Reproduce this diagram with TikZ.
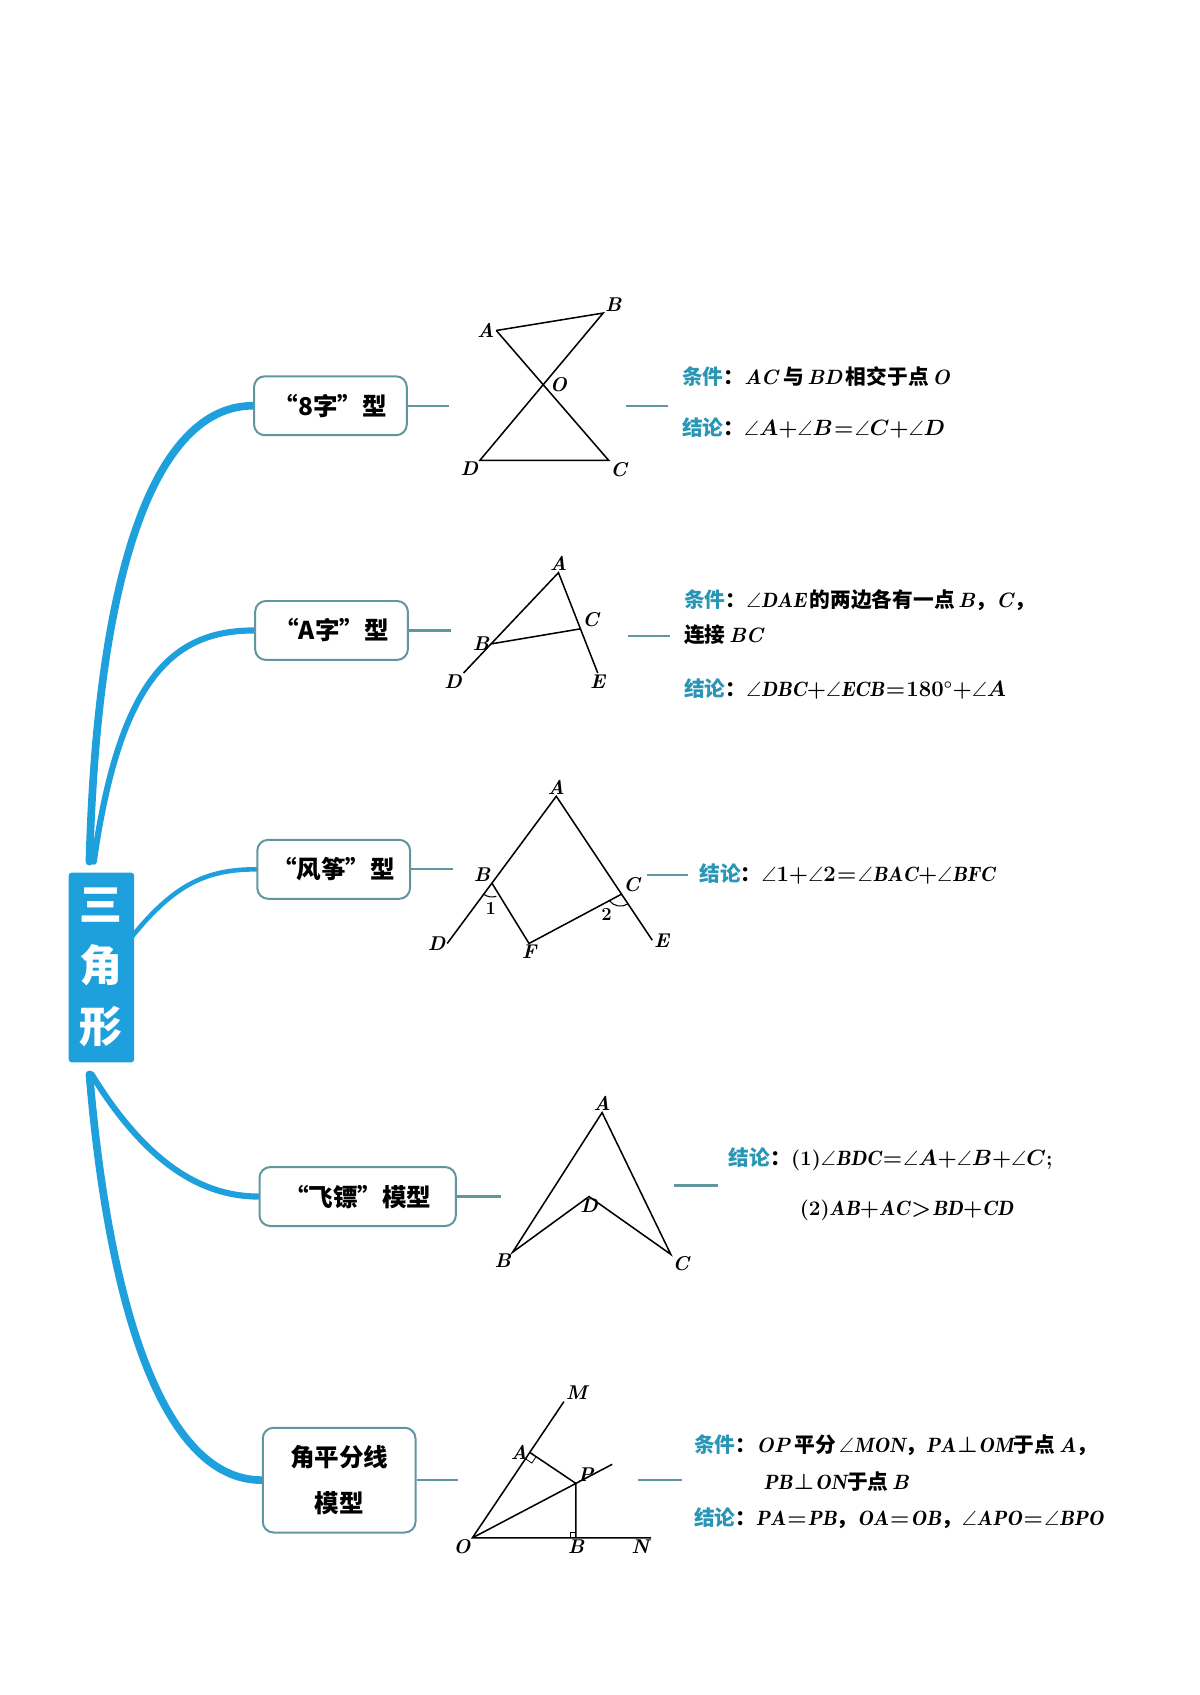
\documentclass[tikz,border=0pt]{standalone}
\usepackage{fontspec}
\usepackage{amssymb}
\newfontfamily\cjk{Noto Sans CJK SC}
\usetikzlibrary{calc}
\definecolor{branchblue}{RGB}{30,160,220}
\definecolor{tealtext}{RGB}{40,150,180}
\definecolor{boxline}{RGB}{95,150,160}
\newcommand{\tightmath}{\medmuskip=0mu\relax\thickmuskip=1mu\relax}
\tikzset{
  topic/.style={draw=boxline, line width=1.3pt, rounded corners=7pt, fill=white,
    minimum height=1.35cm, align=center, font=\cjk\bfseries\fontsize{16}{30}\selectfont},
  branch/.style={branchblue, line width=5pt, line cap=round},
  stub/.style={boxline, line width=1.5pt},
  fig/.style={line width=1pt},
  pt/.style={font=\bfseries\itshape\fontsize{13}{13}\selectfont, inner sep=1pt},
  say/.style={anchor=west, font=\boldmath\bfseries\fontsize{13.5}{15}\selectfont\tightmath, inner sep=0pt}
}
\newcommand{\tlab}[1]{{\color{tealtext}\cjk\bfseries #1}{\cjk ：}}
\newcommand{\dou}{{\cjk ，}}
\begin{document}
\begin{tikzpicture}[x=0.025cm, y=-0.025cm]
  \useasboundingbox (0,0) rectangle (1100,1554);

  % central topic
  \node[fill=branchblue, minimum width=1.5cm, minimum height=4.35cm, rounded corners=2pt,
    text=white, font=\cjk\bfseries\fontsize{28}{40}\selectfont, align=center]
    (root) at (93,887) {三\\角\\形};

  % branches
  \draw[branch] (82,790) .. controls (90,500) and (150,372) .. (232,372);
  \draw[branch, line width=4pt] (86,790) .. controls (110,620) and (160,578) .. (233,578);
  \draw[branch, line width=3pt] (120,860) .. controls (160,810) and (190,797) .. (235,797);
  \draw[branch, line width=4pt] (84,985) .. controls (130,1060) and (180,1097) .. (237,1097);
  \draw[branch] (82,985) .. controls (100,1200) and (150,1357) .. (240,1357);

  % topics
  \node[topic, minimum width=3.5cm, anchor=west] (eight) at (232,372) {“8字”型};
  \node[topic, minimum width=3.5cm, anchor=west] (letA) at (233,578) {“A字”型};
  \node[topic, minimum width=3.5cm, anchor=west] (kite) at (235,797) {“风筝”型};
  \node[topic, minimum width=4.5cm, anchor=west] (dart) at (237,1097) {“飞镖”模型};
  \node[topic, minimum width=3.5cm, minimum height=2.4cm, anchor=west] (bis) at (240,1357) {角平分线\\模型};

  % stubs
  \draw[stub] (eight.east) -- ++(38,0);
  \draw[stub] (letA.east) -- ++(39,0);
  \draw[stub] (kite.east) -- ++(38,0);
  \draw[stub] (dart.east) -- ++(40,0);
  \draw[stub] (bis.east) -- ++(38,0);
  \draw[stub] (574,372) coordinate (s1) -- (612,372);
  \draw[stub] (576,583) coordinate (s2) -- (614,583);
  \draw[stub] (593,802) coordinate (s3) -- (631,802);
  \draw[stub] (618,1087) coordinate (s4) -- (658,1087);
  \draw[stub] (585,1357) coordinate (s5) -- (625,1357);

  % "8" figure
  \coordinate (A1) at (455,303); \coordinate (B1) at (553,287);
  \coordinate (C1) at (558,422); \coordinate (D1) at (440,422);
  \draw[fig] (A1) -- (B1) -- (D1) -- (C1) -- (A1);
  \node[pt, left] at (A1) {A};
  \node[pt, above right] at (B1) {B};
  \node[pt, below right] at (C1) {C};
  \node[pt, below left] at (D1) {D};
  \node[pt] at (512,353) {O};
  \node[say] at (625,345) {\tlab{条件}\textit{AC}\,{\cjk 与}\,\textit{BD}\,{\cjk 相交于点}\,\textit{O}};
  \node[say] at (625,392) {\tlab{结论}$\angle A+\angle B=\angle C+\angle D$};

  % "A" figure
  \coordinate (A2) at (512,525); \coordinate (D2) at (425,617); \coordinate (E2) at (548,617);
  \coordinate (B2) at ($(A2)!0.71!(D2)$); \coordinate (C2) at ($(A2)!0.56!(E2)$);
  \draw[fig] (D2) -- (A2) -- (E2) (B2) -- (C2);
  \node[pt, above] at (A2) {A};
  \node[pt, left] at (B2) {B};
  \node[pt, above right] at (C2) {C};
  \node[pt, below left] at (D2) {D};
  \node[pt, below] at (E2) {E};
  \node[say] at (627,550) {\tlab{条件}$\angle\mathit{DAE}$\,{\cjk 的两边各有一点}\,\textit{B}\dou\textit{C}\dou};
  \node[say] at (627,582) {{\cjk 连接}\,\textit{BC}};
  \node[say] at (627,632) {\tlab{结论}$\angle\mathit{DBC}+\angle\mathit{ECB}=180^\circ+\angle A$};

  % kite figure
  \coordinate (A3) at (510,730); \coordinate (D3) at (410,865); \coordinate (E3) at (598,862);
  \coordinate (B3) at ($(A3)!0.59!(D3)$); \coordinate (C3) at ($(A3)!0.68!(E3)$);
  \coordinate (F3) at (485,865);
  \draw[fig] (D3) -- (A3) -- (E3) (B3) -- (F3) -- (C3);
  \draw[line width=0.7pt] ($(B3)!9pt!(D3)$) arc[start angle=233, end angle=288, radius=9pt];
  \draw[line width=0.7pt] ($(C3)!9pt!(F3)$) arc[start angle=217, end angle=303, radius=9pt];
  \node[pt, above left] at (B3) {B};
  \node[pt, above right] at (C3) {C};
  \node[pt, above] at (A3) {A};
  \node[pt, left] at (D3) {D};
  \node[pt, right] at (E3) {E};
  \node[pt, below] at (F3) {F};
  \node[pt, font=\bfseries\fontsize{12}{12}\selectfont] at (450,833) {1};
  \node[pt, font=\bfseries\fontsize{12}{12}\selectfont] at (556,838) {2};
  \node[say] at (641,801) {\tlab{结论}$\angle 1+\angle 2=\angle\mathit{BAC}+\angle\mathit{BFC}$};

  % dart figure
  \coordinate (A4) at (552,1020); \coordinate (B4) at (470,1148);
  \coordinate (C4) at (615,1150); \coordinate (D4) at (540,1097);
  \draw[fig] (A4) -- (B4) -- (D4) -- (C4) -- cycle;
  \node[pt, above] at (A4) {A};
  \node[pt, below left] at (B4) {B};
  \node[pt, below right] at (C4) {C};
  \node[pt, below] at (D4) {D};
  \node[say] at (668,1063) {\tlab{结论}(1)$\angle\mathit{BDC}=\angle A+\angle B+\angle C$;};
  \node[say] at (733,1110) {(2)$\mathit{AB}+\mathit{AC}>\mathit{BD}+\mathit{CD}$};

  % bisector figure
  \coordinate (O5) at (433,1410); \coordinate (N5) at (597,1410); \coordinate (M5) at (517,1285);
  \coordinate (B5) at (528,1410); \coordinate (P5) at (528,1360);
  \coordinate (A5) at ($(O5)!(P5)!(M5)$);
  \draw[fig] (M5) -- (O5) -- (N5) (O5) -- ($(O5)!1.35!(P5)$) (A5) -- (P5) -- (B5);
  \draw[line width=0.5pt] (523,1410) -- (523,1405) -- (528,1405);
  \draw[line width=0.5pt] ($(A5)!5pt!(O5)$) -- ($(A5)!5pt!(O5)!5pt!90:(O5)$) -- ($(A5)!5pt!(P5)$);
  \node[pt, above right] at (M5) {M};
  \node[pt, left] at (A5) {A};
  \node[pt, above right] at (P5) {P};
  \node[pt, below left] at (O5) {O};
  \node[pt, below] at (B5) {B};
  \node[pt, below left] at (N5) {N};
  \node[say] at (636,1325) {\tlab{条件}\textit{OP}\,{\cjk 平分}\,$\angle\mathit{MON}$\dou$\mathit{PA}\perp\mathit{OM}${\cjk 于点}\,\textit{A}\dou};
  \node[say] at (700,1358) {$\mathit{PB}\perp\mathit{ON}${\cjk 于点}\,\textit{B}};
  \node[say] at (636,1392) {\tlab{结论}$\mathit{PA}=\mathit{PB}$\dou$\mathit{OA}=\mathit{OB}$\dou$\angle\mathit{APO}=\angle\mathit{BPO}$};
\end{tikzpicture}
\end{document}
